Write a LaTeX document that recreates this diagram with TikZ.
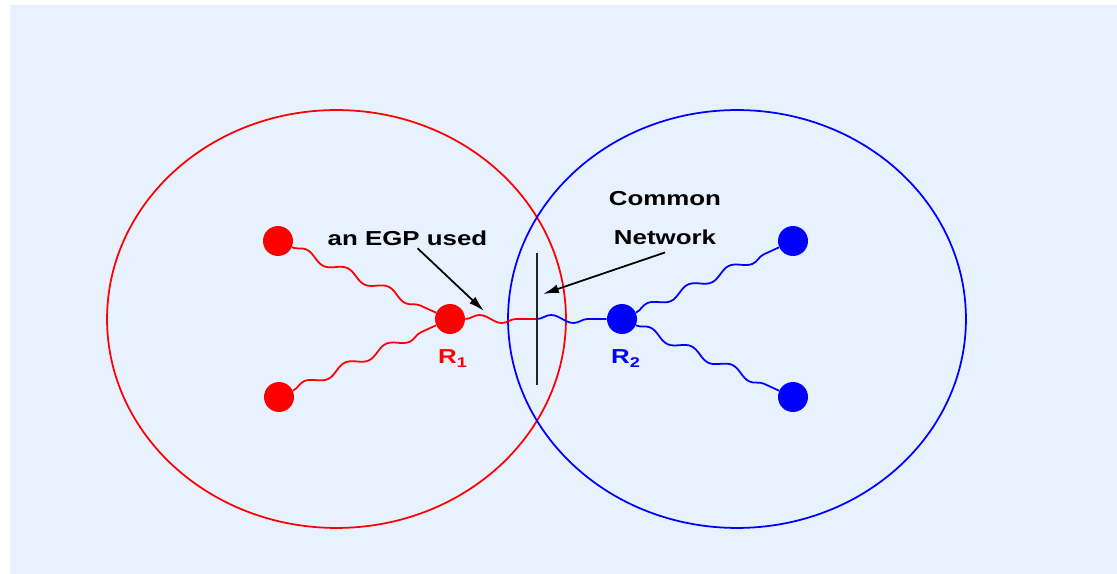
\documentclass[tikz,border=0pt]{standalone}
\usepackage{fontspec}
\setmainfont{Liberation Sans}
\newfontfamily\lblfont[FakeStretch=1.28]{Liberation Sans}
\usetikzlibrary{decorations.pathmorphing,arrows.meta}
\definecolor{paleblue}{RGB}{232,242,255}
\tikzset{
  dot/.style={circle,fill,minimum size=0.6cm,inner sep=0pt},
  wire/.style={line width=1pt,decorate,decoration={snake,segment length=0.9cm,amplitude=0.08cm}},
  lbl/.style={font=\lblfont\fontsize{11.5}{22.7}\selectfont\bfseries,inner sep=1pt},
  >={Latex[length=9pt,width=5pt]}
}
\begin{document}
\begin{tikzpicture}[x=0.02cm,y=-0.02cm]
\useasboundingbox (0,0) rectangle (1117,574);
\fill[paleblue] (10,5) rectangle (1117,574);

\draw[red,line width=1pt] (336.5,319) ellipse [x radius=4.59cm,y radius=4.18cm];
\draw[blue,line width=1pt] (737,319) ellipse [x radius=4.58cm,y radius=4.18cm];

\node (A) at (278,241) [dot,red] {};
\node (B) at (279,397) [dot,red] {};
\node (R1) at (450,319) [dot,red] {};
\draw[wire,red] (A) -- (R1);
\draw[wire,red] (B) -- (R1);

\node (R2) at (622,319) [dot,blue] {};
\node (C) at (793,241) [dot,blue] {};
\node (D) at (793,397) [dot,blue] {};
\draw[wire,blue] (R2) -- (C);
\draw[wire,blue] (R2) -- (D);

\coordinate (M) at (537,319);
\draw[wire,red] (R1) -- (M);
\draw[wire,blue] (M) -- (R2);
\draw[line width=1pt,black!85] (537,253) -- (537,385);

\node (L1) at (436,364) [lbl,red,anchor=base west] {R\textsubscript{1}};
\node (L2) at (609,364) [lbl,blue,anchor=base west] {R\textsubscript{2}};

\node (egp) at (407.5,246) [lbl,anchor=base] {an EGP used};
\node (net) at (665,218) [lbl,align=center,inner sep=4pt] {Common\\Network};
\coordinate (egptip) at (484,311);
\coordinate (nettip) at (543,294);
\draw[->,line width=1pt] (egp) -- (egptip);
\draw[->,line width=1pt] (net.south) -- (nettip);
\end{tikzpicture}
\end{document}
